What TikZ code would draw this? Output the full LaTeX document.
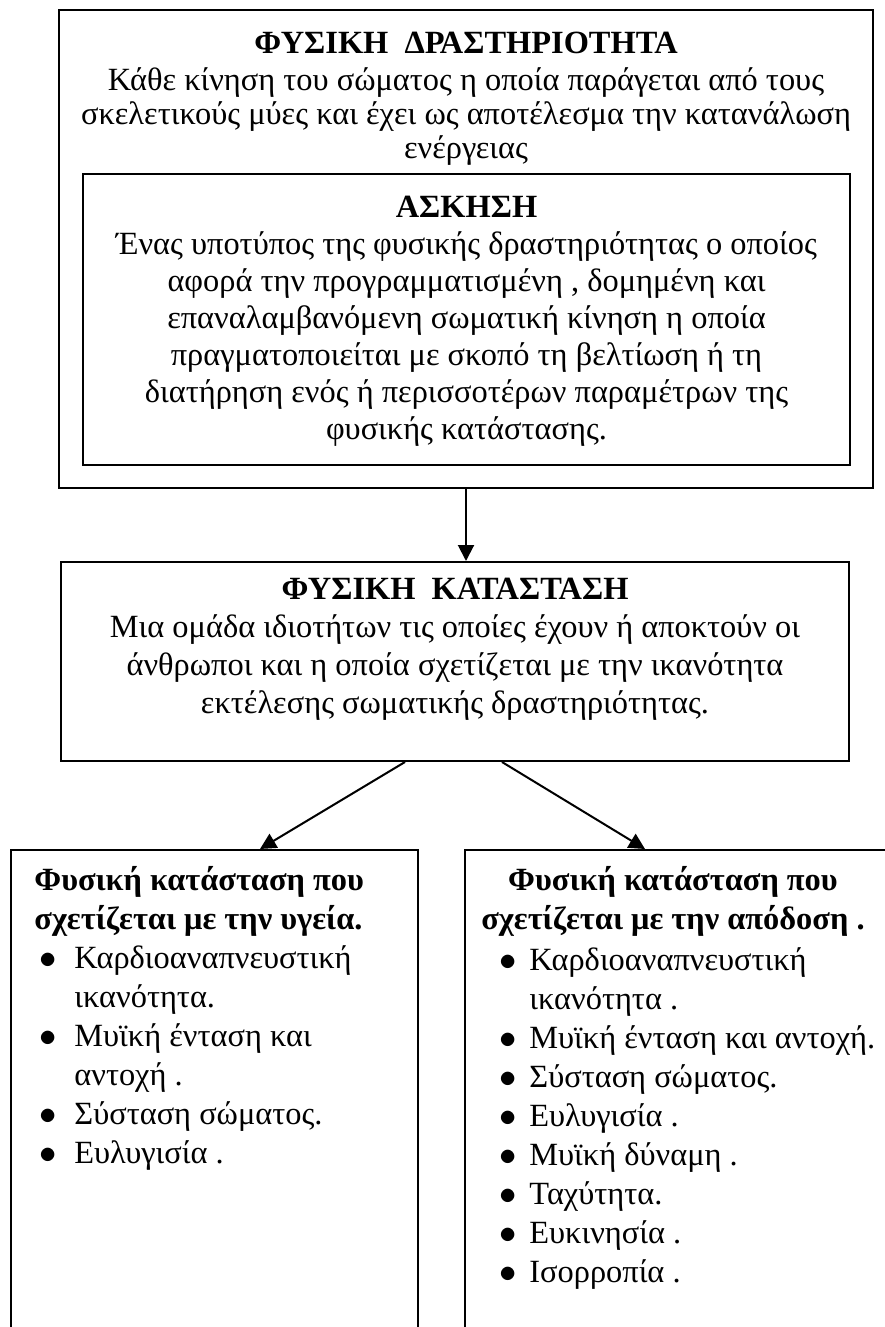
\documentclass[tikz,border=0pt]{standalone}
\usepackage{fontspec}
\setmainfont{Liberation Serif}
\usetikzlibrary{positioning,arrows.meta,calc}

\newcommand{\blt}{\makebox[17.5pt][l]{$\bullet$}}
\newcommand{\blr}{\makebox[15pt][l]{$\bullet$}}
\newcommand{\blc}{\hspace*{17.5pt}}

\begin{document}
\begin{tikzpicture}[
  x=0.5pt,y=-0.5pt,
  frame/.style={draw,line width=1pt,inner sep=0pt},
  txt/.style={inner sep=0pt,align=center,font=\fontsize{16.2}{17}\selectfont},
  wide/.style={font=\fontsize{16.2}{18.5}\selectfont},
  listtxt/.style={inner sep=0pt,align=left,font=\fontsize{16.2}{19.5}\selectfont},
  arr/.style={line width=1pt,-{Triangle[length=8pt,width=8pt]}}
]
\useasboundingbox (0,0) rectangle (884,1327);

% Physical activity
\node[frame,minimum width=407pt,minimum height=239pt] (act) at (466,249) {};
\node[txt,below=11.5pt of act.north] (actT) {\textbf{ΦΥΣΙΚΗ\ \ ΔΡΑΣΤΗΡΙΟΤΗΤΑ}\\[1.5pt]Κάθε κίνηση του σώματος η οποία παράγεται από τους\\σκελετικούς μύες και έχει ως αποτέλεσμα την κατανάλωση\\ενέργειας};

% Exercise
\node[frame,minimum width=383.5pt,minimum height=145.5pt] (ex) at (466.5,319.5) {};
\node[txt,wide,below=11.5pt of ex.north] (exT) {\textbf{ΑΣΚΗΣΗ}\\Ένας υποτύπος της φυσικής δραστηριότητας ο οποίος\\αφορά την προγραμματισμένη , δομημένη και\\επαναλαμβανόμενη σωματική κίνηση η οποία\\πραγματοποιείται με σκοπό τη βελτίωση ή τη\\διατήρηση ενός ή περισσοτέρων παραμέτρων της\\φυσικής κατάστασης.};

% Physical condition
\node[frame,minimum width=394pt,minimum height=99.5pt] (cond) at (455,661.5) {};
\node[txt,font=\fontsize{16.2}{19}\selectfont,below=8.5pt of cond.north] (condT) {\textbf{ΦΥΣΙΚΗ\ \ ΚΑΤΑΣΤΑΣΗ}\\Μια ομάδα ιδιοτήτων τις οποίες έχουν ή αποκτούν οι\\άνθρωποι και η οποία σχετίζεται με την ικανότητα\\εκτέλεσης σωματικής δραστηριότητας.};

% Health / performance
\node[frame,minimum width=203.5pt,minimum height=275pt] (health) at (214.5,1125) {};
\node[listtxt,below right=8.5pt and 12pt of health.north west] (healthT) {\textbf{Φυσική κατάσταση που}\\\textbf{σχετίζεται με την υγεία.}\\
\hspace*{2.5pt}\blt Καρδιοαναπνευστική\\\hspace*{2.5pt}\blc ικανότητα.\\
\hspace*{2.5pt}\blt Μυϊκή ένταση και\\\hspace*{2.5pt}\blc αντοχή .\\
\hspace*{2.5pt}\blt Σύσταση σώματος.\\\hspace*{2.5pt}\blt Ευλυγισία .};

\node[frame,minimum width=220pt,minimum height=275pt] (perf) at (685,1125) {};
\node[txt,font=\fontsize{16.2}{19.5}\selectfont\bfseries,below=8.5pt of perf.north,xshift=-6pt] (perfT) {Φυσική κατάσταση που\\σχετίζεται με την απόδοση .};
\node[listtxt,below right=49pt and 17.5pt of perf.north west] (perfL) {\blr Καρδιοαναπνευστική\\\hspace*{15pt}ικανότητα .\\
\blr Μυϊκή ένταση και αντοχή.\\\blr Σύσταση σώματος.\\\blr Ευλυγισία .\\\blr Μυϊκή δύναμη .\\
\blr Ταχύτητα.\\\blr Ευκινησία .\\\blr Ισορροπία .};

% Connections
\draw[arr] (act.south) -- (act.south |- cond.north);
\draw[arr] ($(cond.south)+(-50,0)$) -- ($(health.north)+(45.5,0)$);
\draw[arr] ($(cond.south)+(47,0)$) -- ($(perf.north)+(-40,0)$);
\end{tikzpicture}
\end{document}
